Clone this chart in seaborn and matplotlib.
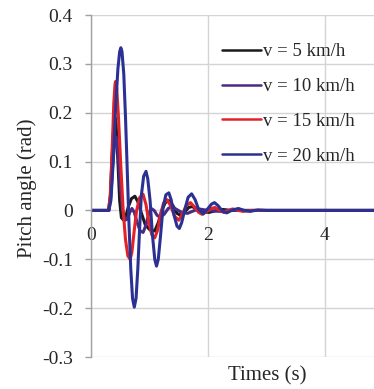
import numpy as np
import pandas as pd
import matplotlib
matplotlib.use("Agg")
import matplotlib.pyplot as plt
import seaborn as sns

labels = ["v = 5 km/h", "v = 10 km/h", "v = 15 km/h", "v = 20 km/h"]
colors = ["#1a1a1a", "#4a2a86", "#e32228", "#2b3193"]

t5 = [0, 0.30, 0.33, 0.36, 0.39, 0.41, 0.43, 0.46, 0.49, 0.52, 0.56, 0.60, 0.64, 0.69, 0.75, 0.80, 0.86, 0.93, 1.01, 1.09, 1.15, 1.21, 1.27, 1.33, 1.40, 1.47, 1.53, 1.60, 1.67, 1.73, 1.82, 1.92, 2.02, 2.15, 2.25, 2.4, 5.0]
y5 = [0, 0, 0.03, 0.11, 0.175, 0.19, 0.175, 0.10, 0.02, -0.015, -0.02, -0.01, 0.008, 0.024, 0.029, 0.018, -0.005, -0.03, -0.04, -0.042, -0.025, 0.0, 0.016, 0.02, 0.01, -0.006, -0.01, -0.003, 0.006, 0.008, 0.002, -0.003, -0.004, 0.0, 0.002, 0, 0]

t10 = [0, 0.31, 0.34, 0.37, 0.40, 0.43, 0.46, 0.50, 0.54, 0.58, 0.62, 0.66, 0.70, 0.74, 0.79, 0.84, 0.89, 0.94, 0.99, 1.03, 1.08, 1.13, 1.18, 1.25, 1.32, 1.38, 1.45, 1.55, 1.65, 1.75, 1.85, 2.0, 2.2, 2.4, 5.0]
y10 = [0, 0, 0.03, 0.09, 0.135, 0.15, 0.12, 0.05, 0.0, -0.02, -0.018, -0.005, 0.004, -0.004, -0.025, -0.042, -0.045, -0.03, -0.005, 0.004, 0.0, -0.01, -0.014, -0.008, 0.004, 0.008, 0.003, -0.004, -0.006, -0.001, 0.003, 0, -0.002, 0, 0]

t15 = [0, 0.30, 0.33, 0.36, 0.39, 0.41, 0.42, 0.44, 0.47, 0.51, 0.55, 0.59, 0.63, 0.67, 0.70, 0.74, 0.78, 0.83, 0.89, 0.94, 0.99, 1.04, 1.09, 1.14, 1.19, 1.24, 1.30, 1.36, 1.43, 1.50, 1.56, 1.63, 1.70, 1.77, 1.84, 1.90, 1.98, 2.05, 2.12, 2.2, 2.27, 2.35, 2.42, 2.52, 2.6, 2.75, 5.0]
y15 = [0, 0, 0.03, 0.12, 0.22, 0.258, 0.264, 0.25, 0.19, 0.09, 0.0, -0.06, -0.093, -0.100, -0.085, -0.04, 0.0, 0.026, 0.033, 0.012, -0.025, -0.05, -0.056, -0.04, -0.008, 0.015, 0.022, 0.01, -0.012, -0.020, -0.008, 0.01, 0.016, 0.007, -0.004, -0.008, -0.002, 0.004, 0.006, 0.0, -0.004, 0.0, 0.003, 0.0, -0.002, 0, 0]

t20 = [0, 0.30, 0.34, 0.38, 0.42, 0.46, 0.49, 0.51, 0.53, 0.56, 0.59, 0.62, 0.65, 0.68, 0.71, 0.74, 0.77, 0.80, 0.83, 0.86, 0.90, 0.94, 0.97, 1.01, 1.05, 1.09, 1.12, 1.15, 1.19, 1.23, 1.28, 1.33, 1.37, 1.42, 1.47, 1.51, 1.55, 1.60, 1.66, 1.72, 1.78, 1.84, 1.92, 2.00, 2.06, 2.11, 2.17, 2.25, 2.32, 2.42, 2.52, 2.62, 2.72, 2.85, 3.0, 5.0]
y20 = [0, 0, 0.02, 0.10, 0.21, 0.29, 0.325, 0.333, 0.325, 0.28, 0.19, 0.08, -0.03, -0.12, -0.18, -0.198, -0.18, -0.12, -0.04, 0.03, 0.07, 0.080, 0.065, 0.02, -0.05, -0.10, -0.114, -0.10, -0.05, 0.005, 0.032, 0.036, 0.022, -0.01, -0.032, -0.037, -0.025, 0.0, 0.027, 0.034, 0.022, 0.002, -0.007, 0.004, 0.013, 0.016, 0.01, -0.002, -0.005, 0.001, 0.004, 0.0, -0.002, 0.001, 0, 0]

xticks = [0, 2, 4]
yticks = [-0.3, -0.2, -0.1, 0, 0.1, 0.2, 0.3, 0.4]
yticklabels = ["-0.3", "-0.2", "-0.1", "0", "0.1", "0.2", "0.3", "0.4"]

frames = []
for lab, t, y in zip(labels, [t5, t10, t15, t20], [y5, y10, y15, y20]):
    frames.append(pd.DataFrame({"t": t, "y": y, "series": lab}))
df = pd.concat(frames, ignore_index=True)

sns.set_style("white")
plt.rcParams["font.family"] = ["Liberation Serif", "DejaVu Serif"]

W, H = 374, 389
fig = plt.figure(figsize=(W / 100, H / 100), dpi=100)
ax = fig.add_axes([91 / W, 1 - 357 / H, (W - 91) / W, (357 - 15) / H])

sns.lineplot(data=df, x="t", y="y", hue="series", hue_order=labels,
             palette=colors, linewidth=2.2, ax=ax, sort=False, estimator=None)

for s in ["top", "right"]:
    ax.spines[s].set_visible(False)
ax.spines["bottom"].set_position(("data", 0))
ax.spines["bottom"].set_visible(False)
ax.spines["left"].set_color("#a0a0a0")
ax.spines["left"].set_linewidth(1.0)

ax.set_xlim(0, (W - 91) / 58.5)
ax.set_ylim(-0.3, 0.4)
ax.set_yticks(yticks)
ax.set_yticklabels(yticklabels)
ax.set_xticks(xticks)
ax.set_xticklabels([str(v) for v in xticks])
ax.tick_params(axis="y", length=4.5, width=1, color="#a0a0a0", pad=8.5, left=True,
               labelsize=14, labelcolor="#262626")
ax.tick_params(axis="x", length=0, pad=12, labelsize=14, labelcolor="#262626")

ax.grid(True, color="#d4d4d4", linewidth=1.0)
ax.set_axisbelow(True)

ax.set_xlabel("")
ax.set_ylabel("")
fig.text(267 / W, 1 - 376 / H, "Times (s)", ha="center", va="center", fontsize=15, color="#262626")
fig.text(27 / W, 1 - 188 / H, "Pitch angle (rad)", ha="center", va="center", rotation=90,
         fontsize=15, color="#262626")

leg = ax.legend(loc="upper left", bbox_to_anchor=(222 / W, 1 - 43 / H), bbox_transform=fig.transFigure,
                frameon=False, fontsize=13.5, handlelength=2.1, handletextpad=0.08,
                labelspacing=0.95, borderpad=0, borderaxespad=0)
for line in leg.get_lines():
    line.set_linewidth(1.8)

fig.savefig("out.png", dpi=100)
